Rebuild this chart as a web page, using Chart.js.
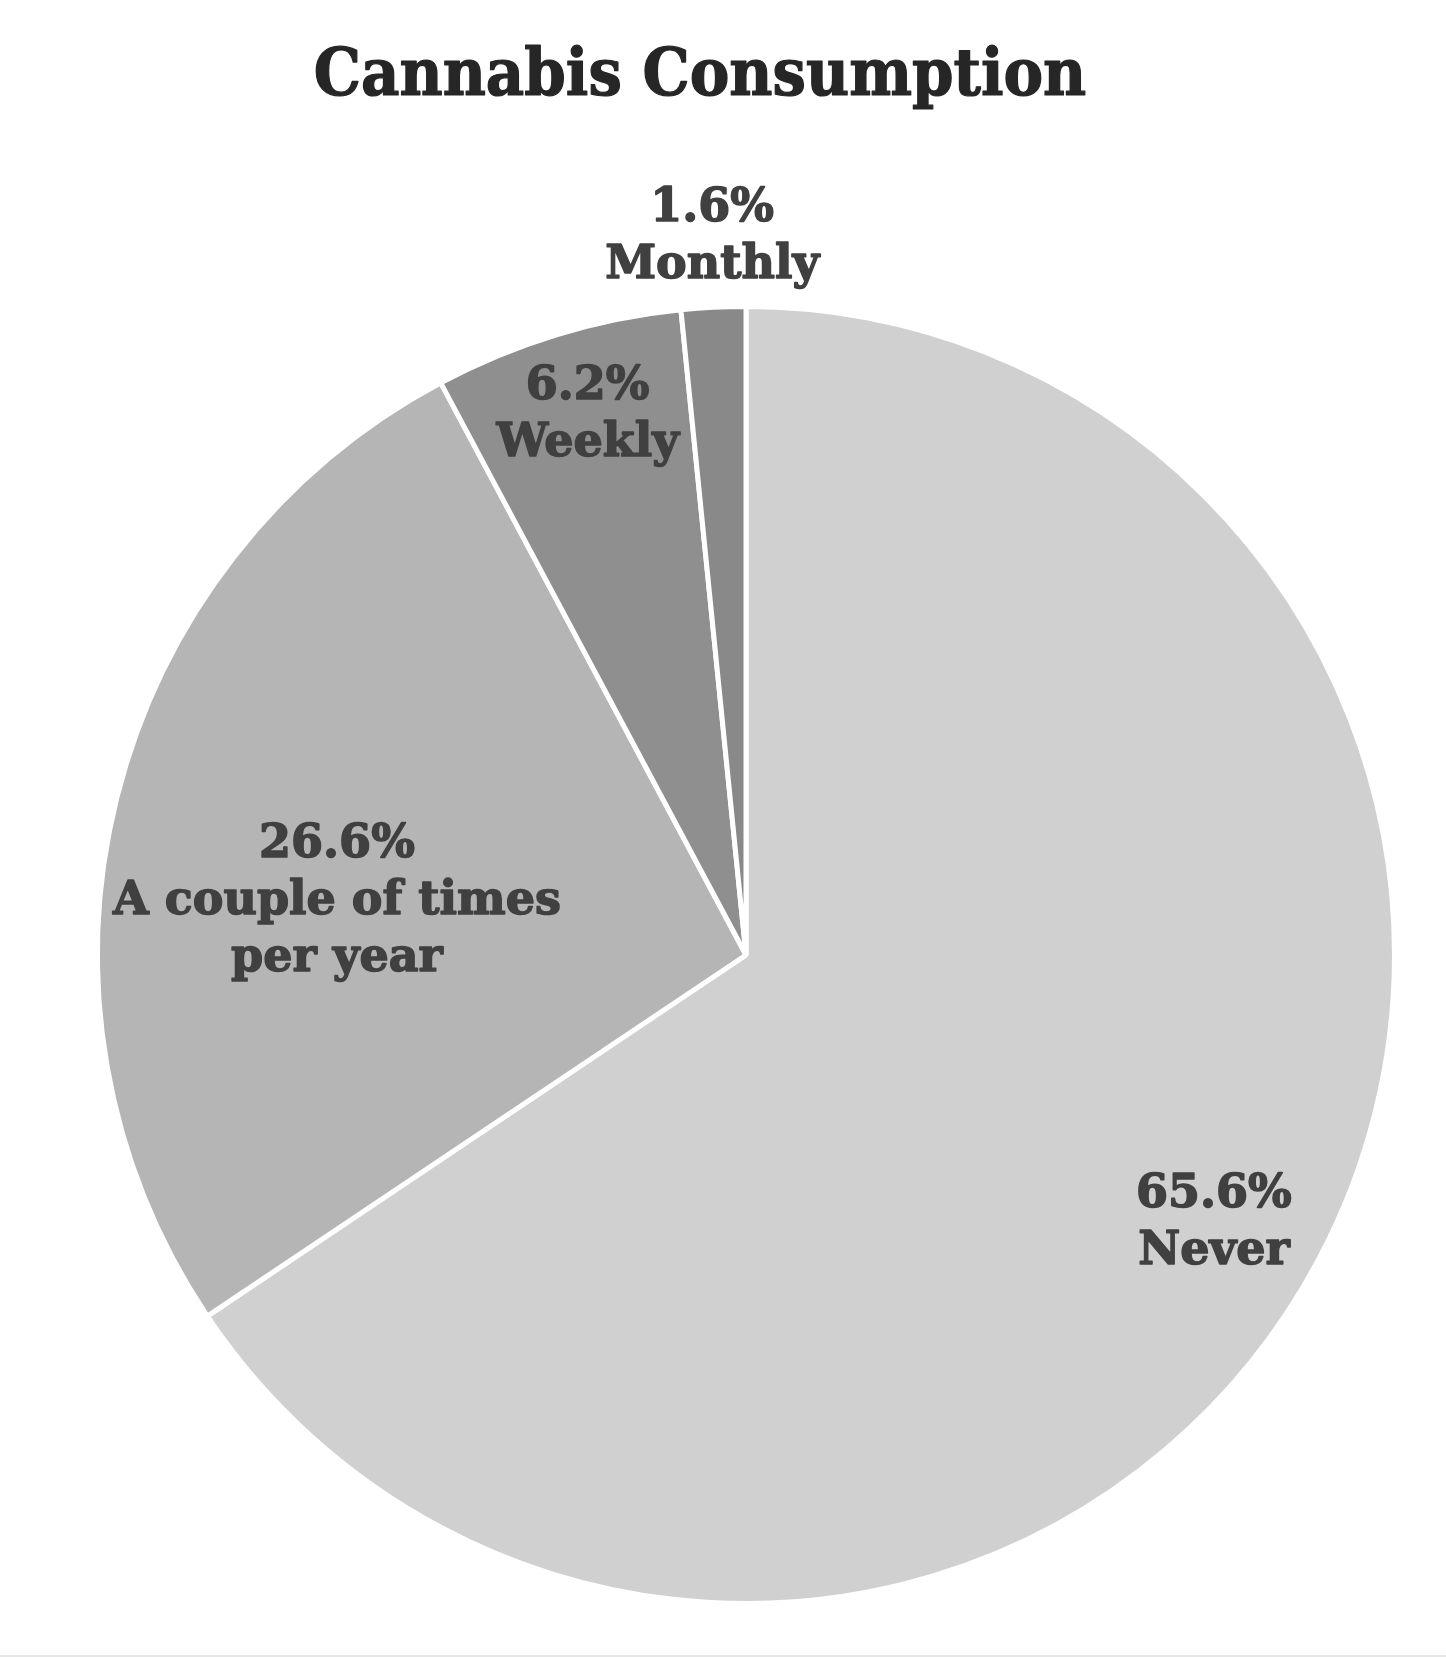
<!DOCTYPE html>
<html>
<head>
<meta charset="utf-8">
<script src="https://cdn.jsdelivr.net/npm/chart.js@4/dist/chart.umd.min.js"></script>
<style>
  html, body { margin: 0; padding: 0; background: #ffffff; }
  #wrap { position: relative; width: 1446px; height: 1657px; overflow: hidden; }
  #bottomRule { position: absolute; left: 0; right: 0; bottom: 0; height: 2px; background: #e6e6e6; }
</style>
</head>
<body>
<div id="wrap">
  <canvas id="c" width="1446" height="1657"></canvas>
  <div id="bottomRule"></div>
</div>
<script>
// ---- data ----
const chartTitle = 'Cannabis Consumption';
const categories = ['Never', 'A couple of times per year', 'Weekly', 'Monthly'];
const labelLines = [['Never'], ['A couple of times', 'per year'], ['Weekly'], ['Monthly']];
const values = [65.6, 26.6, 6.2, 1.6];
const sliceColors = ['#d0d0d0', '#b5b5b5', '#8f8f8f', '#898989'];

// ---- label placement (style) ----
const labelPlacement = [
  { r: 0.828, shift: 1.3 },
  { r: 0.637, shift: -6.0 },
  { r: 0.874, shift: 0.7 },
  { r: 1.116, shift: 0.2 }
];

const titlePlugin = {
  id: 'customTitle',
  afterDraw(chart) {
    const ctx = chart.ctx;
    ctx.save();
    ctx.font = 'bold condensed 66px "DejaVu Serif Condensed", "DejaVu Serif"';
    ctx.fillStyle = '#262626';
    ctx.strokeStyle = '#262626';
    ctx.lineWidth = 1.2;
    ctx.lineJoin = 'round';
    ctx.textAlign = 'center';
    ctx.textBaseline = 'alphabetic';
    ctx.fillText(chartTitle, 700, 95);
    ctx.strokeText(chartTitle, 700, 95);
    ctx.restore();
  }
};

const sliceLabelPlugin = {
  id: 'sliceLabels',
  afterDatasetsDraw(chart) {
    const meta = chart.getDatasetMeta(0);
    const ctx = chart.ctx;
    ctx.save();
    ctx.font = 'bold 46px "DejaVu Serif"';
    ctx.fillStyle = '#404040';
    ctx.strokeStyle = '#404040';
    ctx.lineWidth = 1.5;
    ctx.lineJoin = 'round';
    ctx.textAlign = 'center';
    ctx.textBaseline = 'middle';
    const lh = 57;
    meta.data.forEach((arc, i) => {
      const p = arc.getProps(['x', 'y', 'startAngle', 'endAngle', 'outerRadius'], true);
      const a = (p.startAngle + p.endAngle) / 2 + labelPlacement[i].shift * Math.PI / 180;
      const r = p.outerRadius * labelPlacement[i].r;
      const cx = p.x + Math.cos(a) * r;
      const cy = p.y + Math.sin(a) * r + 5;
      const lines = [values[i].toFixed(1) + '%', ...labelLines[i]];
      lines.forEach((t, k) => {
        const ty = cy + (k - (lines.length - 1) / 2) * lh;
        ctx.fillText(t, cx, ty);
        ctx.strokeText(t, cx, ty);
      });
    });
    ctx.restore();
  }
};

new Chart(document.getElementById('c'), {
  type: 'pie',
  data: {
    labels: categories,
    datasets: [{
      data: values,
      backgroundColor: sliceColors,
      borderColor: '#ffffff',
      borderWidth: 5,
      hoverOffset: 0
    }]
  },
  options: {
    responsive: false,
    animation: false,
    layout: { padding: { top: 304, bottom: 51, left: 95, right: 49 } },
    plugins: {
      legend: { display: false },
      title: { display: false },
      tooltip: { enabled: false }
    },
    events: []
  },
  plugins: [sliceLabelPlugin, titlePlugin]
});
</script>
</body>
</html>
